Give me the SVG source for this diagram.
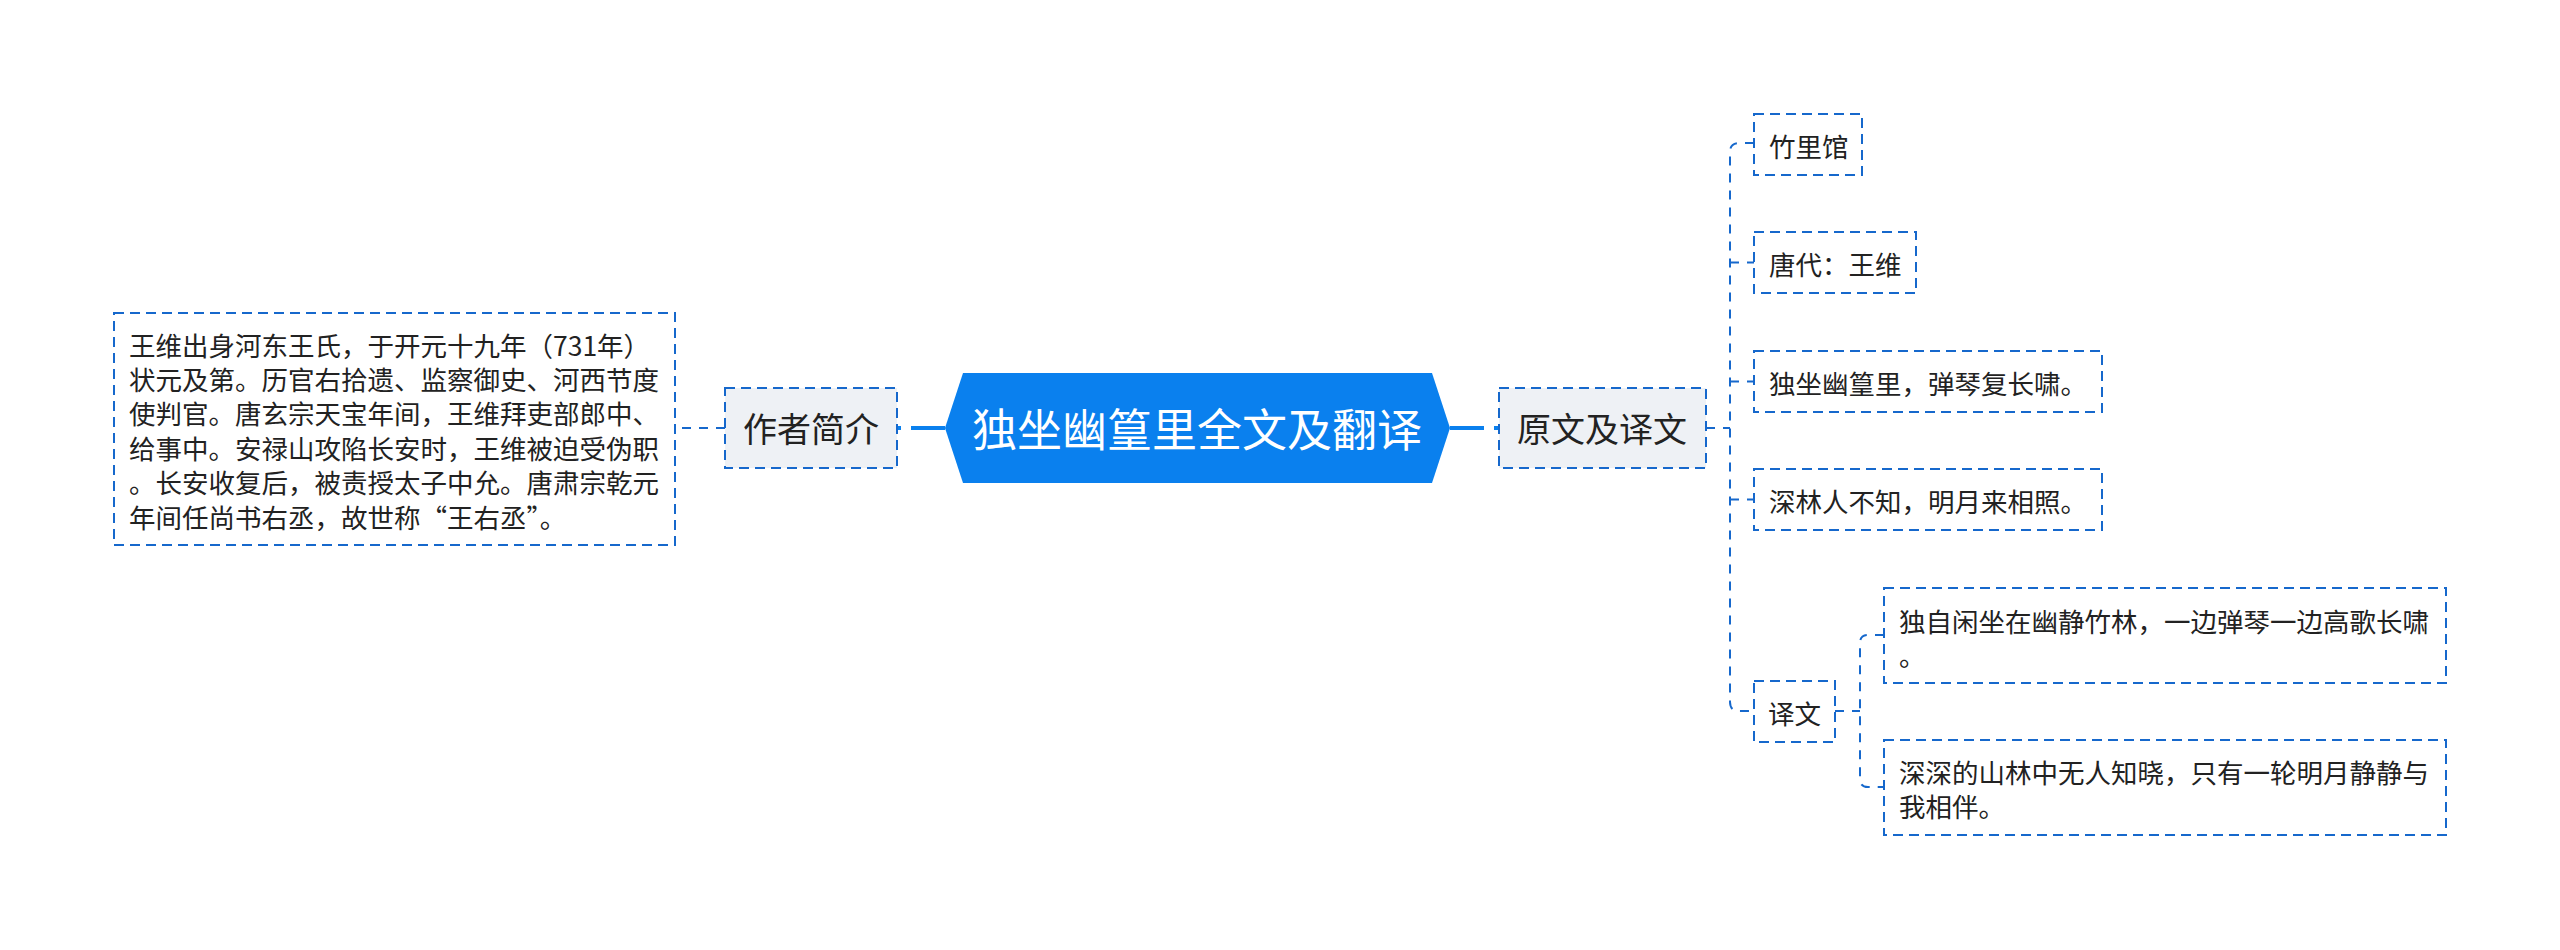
<svg xmlns="http://www.w3.org/2000/svg" width="2560" height="950" viewBox="0 0 2560 950">
<style>
text{font-family:"Noto Sans CJK SC","Noto Sans",sans-serif;dominant-baseline:central;fill:#222}
.box{fill:#fff;stroke:#1668cc;stroke-width:2;stroke-dasharray:10 6}
.main{fill:#eef1f5;stroke:#1668cc;stroke-width:2;stroke-dasharray:10 6}
.thin{fill:none;stroke:#1668cc;stroke-width:2;stroke-dasharray:9 8}
.thick{fill:none;stroke:#0a80ee;stroke-width:4;stroke-dasharray:34 10}
.t{font-size:26.5px}
.m{font-size:34px}
</style>
<rect width="2560" height="950" fill="#fff"/>
<g id="connectors">
<path class="thick" d="M945,428 H898"/>
<path class="thick" d="M1450,428 H1499"/>
<path class="thin" d="M725,428 H675"/>
<path class="thin" d="M1706,428 H1730"/>
<path class="thin" d="M1754,143 H1739 Q1730,143 1730,152 V702 Q1730,711 1739,711 H1754"/>
<path class="thin" d="M1730,262.5 H1754"/>
<path class="thin" d="M1730,381.5 H1754"/>
<path class="thin" d="M1730,499.5 H1754"/>
<path class="thin" d="M1835,711 H1860"/>
<path class="thin" d="M1884,635 H1868 Q1860,635 1860,643 V779 Q1860,787 1868,787 H1884"/>
</g>
<g id="central">
<path d="M945,428 L963,373 H1432 L1450,428 L1432,483 H963 Z" fill="#0a80ee"/>
<text x="1197" y="427" font-size="45" text-anchor="middle" style="fill:#fff">独坐幽篁里全文及翻译</text>
</g>
<g id="author-intro">
<rect class="main" x="725" y="388" width="172" height="80"/>
<text class="m" x="811" y="427" text-anchor="middle">作者简介</text>
</g>
<g id="author-detail">
<rect class="box" x="114" y="313" width="561" height="232"/>
<text class="t" x="129" y="344">王维出身河东王氏，于开元十九年（731年）</text>
<text class="t" x="129" y="378.4">状元及第。历官右拾遗、监察御史、河西节度</text>
<text class="t" x="129" y="412.8">使判官。唐玄宗天宝年间，王维拜吏部郎中、</text>
<text class="t" x="129" y="447.2">给事中。安禄山攻陷长安时，王维被迫受伪职</text>
<text class="t" x="129" y="481.6">。长安收复后，被责授太子中允。唐肃宗乾元</text>
<text class="t" x="129" y="516">年间任尚书右丞，故世称“王右丞”。</text>
</g>
<g id="original">
<rect class="main" x="1499" y="388" width="207" height="80"/>
<text class="m" x="1602" y="427" text-anchor="middle">原文及译文</text>
</g>
<g id="title">
<rect class="box" x="1754" y="114" width="108" height="61"/>
<text class="t" x="1769" y="145">竹里馆</text>
</g>
<g id="author">
<rect class="box" x="1754" y="232" width="162" height="61"/>
<text class="t" x="1769" y="263">唐代：王维</text>
</g>
<g id="line1">
<rect class="box" x="1754" y="351" width="348" height="61"/>
<text class="t" x="1769" y="382">独坐幽篁里，弹琴复长啸。</text>
</g>
<g id="line2">
<rect class="box" x="1754" y="469" width="348" height="61"/>
<text class="t" x="1769" y="500">深林人不知，明月来相照。</text>
</g>
<g id="translation">
<rect class="box" x="1754" y="681" width="81" height="61"/>
<text class="t" x="1768" y="712">译文</text>
</g>
<g id="trans1">
<rect class="box" x="1884" y="588" width="562" height="95"/>
<text class="t" x="1899" y="620">独自闲坐在幽静竹林，一边弹琴一边高歌长啸</text>
<text class="t" x="1899" y="654.4">。</text>
</g>
<g id="trans2">
<rect class="box" x="1884" y="740" width="562" height="95"/>
<text class="t" x="1899" y="771">深深的山林中无人知晓，只有一轮明月静静与</text>
<text class="t" x="1899" y="805.4">我相伴。</text>
</g>
</svg>
